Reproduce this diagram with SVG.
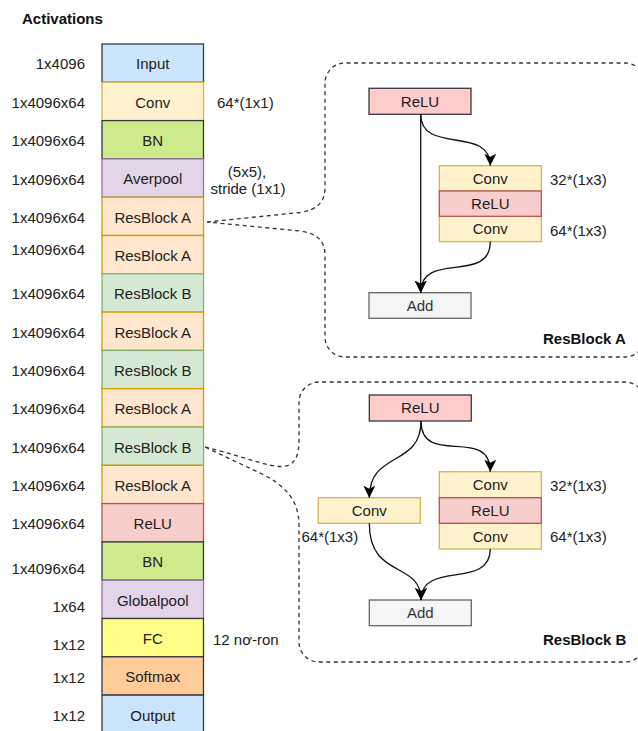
<svg xmlns="http://www.w3.org/2000/svg" width="638" height="731" viewBox="0 0 638 731">
<defs>
<marker id="arr" markerUnits="userSpaceOnUse" markerWidth="12" markerHeight="12" viewBox="0 0 10 10" refX="10" refY="5" orient="auto">
<path d="M0,0 L10,5 L0,10 L2.5,5 Z" fill="#000"/>
</marker>
</defs>
<style>
text{font-family:"Liberation Sans",Arial,Helvetica,sans-serif;font-size:15px;fill:#222}
.c{text-anchor:middle}
.r{text-anchor:end}
.b{font-weight:bold;fill:#111}
rect{stroke-width:1.3}
.dash{fill:none;stroke:#333;stroke-width:1.3;stroke-dasharray:4 3.5}
.edge{fill:none;stroke:#111;stroke-width:1.3;marker-end:url(#arr)}
.blue{fill:#cce5ff;stroke:#36393d}
.yel{fill:#fff2cc;stroke:#d6b656}
.grn{fill:#cdeb8b;stroke:#36393d}
.pur{fill:#e1d5e7;stroke:#9673a6}
.ora{fill:#ffe6cc;stroke:#d79b00}
.lg{fill:#d5e8d4;stroke:#82b366}
.red{fill:#f8cecc;stroke:#b85450}
.pink{fill:#ffcccc;stroke:#36393d}
.fc{fill:#ffff88;stroke:#36393d}
.sm{fill:#ffcc99;stroke:#36393d}
.add{fill:#f5f5f5;stroke:#666666}
.addt{fill:#333}
</style>
<rect width="638" height="731" fill="#fff" stroke="none"/>
<text class="b" x="22" y="24">Activations</text>

<g id="left-labels">
<text class="r" x="85" y="69.4">1x4096</text>
<text class="r" x="85" y="107.7">1x4096x64</text>
<text class="r" x="85" y="146.1">1x4096x64</text>
<text class="r" x="85" y="184.7">1x4096x64</text>
<text class="r" x="85" y="223.1">1x4096x64</text>
<text class="r" x="85" y="254.7">1x4096x64</text>
<text class="r" x="85" y="299.4">1x4096x64</text>
<text class="r" x="85" y="337.7">1x4096x64</text>
<text class="r" x="85" y="376.1">1x4096x64</text>
<text class="r" x="85" y="414.4">1x4096x64</text>
<text class="r" x="85" y="452.7">1x4096x64</text>
<text class="r" x="85" y="490.9">1x4096x64</text>
<text class="r" x="85" y="529.4">1x4096x64</text>
<text class="r" x="85" y="574.1">1x4096x64</text>
<text class="r" x="85" y="612.1">1x64</text>
<text class="r" x="85" y="650.1">1x12</text>
<text class="r" x="85" y="683.1">1x12</text>
<text class="r" x="85" y="721.4">1x12</text>
</g>

<g id="n-input"><rect class="blue" x="102" y="44" width="101.5" height="38.3"/><text class="c" x="152.75" y="69.4">Input</text></g>
<g id="n-conv"><rect class="yel" x="102" y="82.3" width="101.5" height="38.3"/><text class="c" x="152.75" y="107.7">Conv</text></g>
<g id="n-bn1"><rect class="grn" x="102" y="120.6" width="101.5" height="38.3"/><text class="c" x="152.75" y="146.1">BN</text></g>
<g id="n-averpool"><rect class="pur" x="102" y="158.9" width="101.5" height="38.3"/><text class="c" x="152.75" y="184.4">Averpool</text></g>
<g id="n-resa1"><rect class="ora" x="102" y="197.2" width="101.5" height="38.3"/><text class="c" x="152.75" y="222.7">ResBlock A</text></g>
<g id="n-resa2"><rect class="ora" x="102" y="235.5" width="101.5" height="38.3"/><text class="c" x="152.75" y="261">ResBlock A</text></g>
<g id="n-resb1"><rect class="lg" x="102" y="273.8" width="101.5" height="38.3"/><text class="c" x="152.75" y="299.3">ResBlock B</text></g>
<g id="n-resa3"><rect class="ora" x="102" y="312.1" width="101.5" height="38.3"/><text class="c" x="152.75" y="337.6">ResBlock A</text></g>
<g id="n-resb2"><rect class="lg" x="102" y="350.4" width="101.5" height="38.3"/><text class="c" x="152.75" y="375.9">ResBlock B</text></g>
<g id="n-resa4"><rect class="ora" x="102" y="388.7" width="101.5" height="38.3"/><text class="c" x="152.75" y="414.2">ResBlock A</text></g>
<g id="n-resb3"><rect class="lg" x="102" y="427" width="101.5" height="38.3"/><text class="c" x="152.75" y="452.5">ResBlock B</text></g>
<g id="n-resa5"><rect class="ora" x="102" y="465.3" width="101.5" height="38.3"/><text class="c" x="152.75" y="490.8">ResBlock A</text></g>
<g id="n-relu"><rect class="red" x="102" y="503.6" width="101.5" height="38.3"/><text class="c" x="152.75" y="529.1">ReLU</text></g>
<g id="n-bn2"><rect class="grn" x="102" y="541.9" width="101.5" height="38.3"/><text class="c" x="152.75" y="567.4">BN</text></g>
<g id="n-globalpool"><rect class="pur" x="102" y="580.2" width="101.5" height="38.3"/><text class="c" x="152.75" y="605.7">Globalpool</text></g>
<g id="n-fc"><rect class="fc" x="102" y="618.5" width="101.5" height="38.3"/><text class="c" x="152.75" y="644">FC</text></g>
<g id="n-softmax"><rect class="sm" x="102" y="656.8" width="101.5" height="38.3"/><text class="c" x="152.75" y="682.3">Softmax</text></g>
<g id="n-output"><rect class="blue" x="102" y="695.1" width="101.5" height="38.3"/><text class="c" x="152.75" y="720.6">Output</text></g>

<g id="side-labels">
<text x="217" y="108">64*(1x1)</text>
<text class="c" x="247" y="177">(5x5),</text>
<text class="c" x="248" y="193.5">stride (1x1)</text>
<text x="213" y="644.5">12 nơ-ron</text>
</g>

<g id="panel-a">
<path class="dash" d="M207,222 L300,212.5 Q325,209 325,188 L325,83 A20,20 0 0 1 345,63 L625,63 A20,20 0 0 1 645,83 L645,337 A20,20 0 0 1 625,357 L345,357 A20,20 0 0 1 325,337 L325,255 Q325,234 300,231 L207,222"/>
<text class="b" x="543" y="343.5">ResBlock A</text>
</g>
<g id="a-relu"><rect class="pink" x="369" y="88.3" width="102" height="26"/><text class="c" x="420" y="106.5">ReLU</text></g>
<g id="a-conv1"><rect class="yel" x="439.3" y="165.7" width="102" height="25.3"/><text class="c" x="490.3" y="183.6">Conv</text></g>
<g id="a-conv2"><rect class="yel" x="439.3" y="216.3" width="102" height="25.3"/><text class="c" x="490.3" y="234.2">Conv</text></g>
<g id="a-relu2"><rect class="red" x="439.3" y="191" width="102" height="25.3"/><text class="c" x="490.3" y="208.9">ReLU</text></g>
<g id="a-add"><rect class="add" x="369" y="292.7" width="102" height="25.6"/><text class="c addt" x="420" y="311">Add</text></g>
<text x="550" y="185.4">32*(1x3)</text>
<text x="550" y="236">64*(1x3)</text>

<g id="panel-b">
<path class="dash" d="M205,447 C245,457 268,467 282,466.5 C295,466 299,456 299,440 L299,402 A20,20 0 0 1 319,382 L625,382 A20,20 0 0 1 645,402 L645,642 A20,20 0 0 1 625,662 L319,662 A20,20 0 0 1 299,642 L299,525 C299,498 282,484 262,474 L205,447"/>
<text class="b" x="543" y="644.5">ResBlock B</text>
</g>
<g id="b-relu"><rect class="pink" x="369.3" y="395" width="102" height="26"/><text class="c" x="420.3" y="413.2">ReLU</text></g>
<g id="b-convl"><rect class="yel" x="318.3" y="497.7" width="102" height="25.6"/><text class="c" x="369.3" y="515.7">Conv</text></g>
<g id="b-conv1"><rect class="yel" x="439.3" y="471.7" width="102" height="26"/><text class="c" x="490.3" y="489.9">Conv</text></g>
<g id="b-conv2"><rect class="yel" x="439.3" y="523.3" width="102" height="25.7"/><text class="c" x="490.3" y="541.5">Conv</text></g>
<g id="b-relu2"><rect class="red" x="439.3" y="497.7" width="102" height="25.6"/><text class="c" x="490.3" y="515.7">ReLU</text></g>
<g id="b-add"><rect class="add" x="369.3" y="600" width="102" height="25.7"/><text class="c addt" x="420.3" y="618.3">Add</text></g>
<text x="550" y="491.4">32*(1x3)</text>
<text x="550" y="542">64*(1x3)</text>
<text x="301.5" y="542">64*(1x3)</text>

<g id="connectors">
<path class="edge" d="M420.7,114.3 L420.7,292.7"/>
<path class="edge" d="M420.7,114.3 C420.7,155 490.3,125 490.3,165.7"/>
<path class="edge" d="M490.3,241.6 C490.3,285 420.7,250 420.7,292.7"/>
<path class="edge" d="M421,421 C421,468 369.3,450 369.3,497.7"/>
<path class="edge" d="M421,421 C421,468 490.3,425 490.3,471.7"/>
<path class="edge" d="M369.3,523.3 C369.3,580 421,560 421,600"/>
<path class="edge" d="M490.3,549 C490.3,590 421,560 421,600"/>
</g>
</svg>
